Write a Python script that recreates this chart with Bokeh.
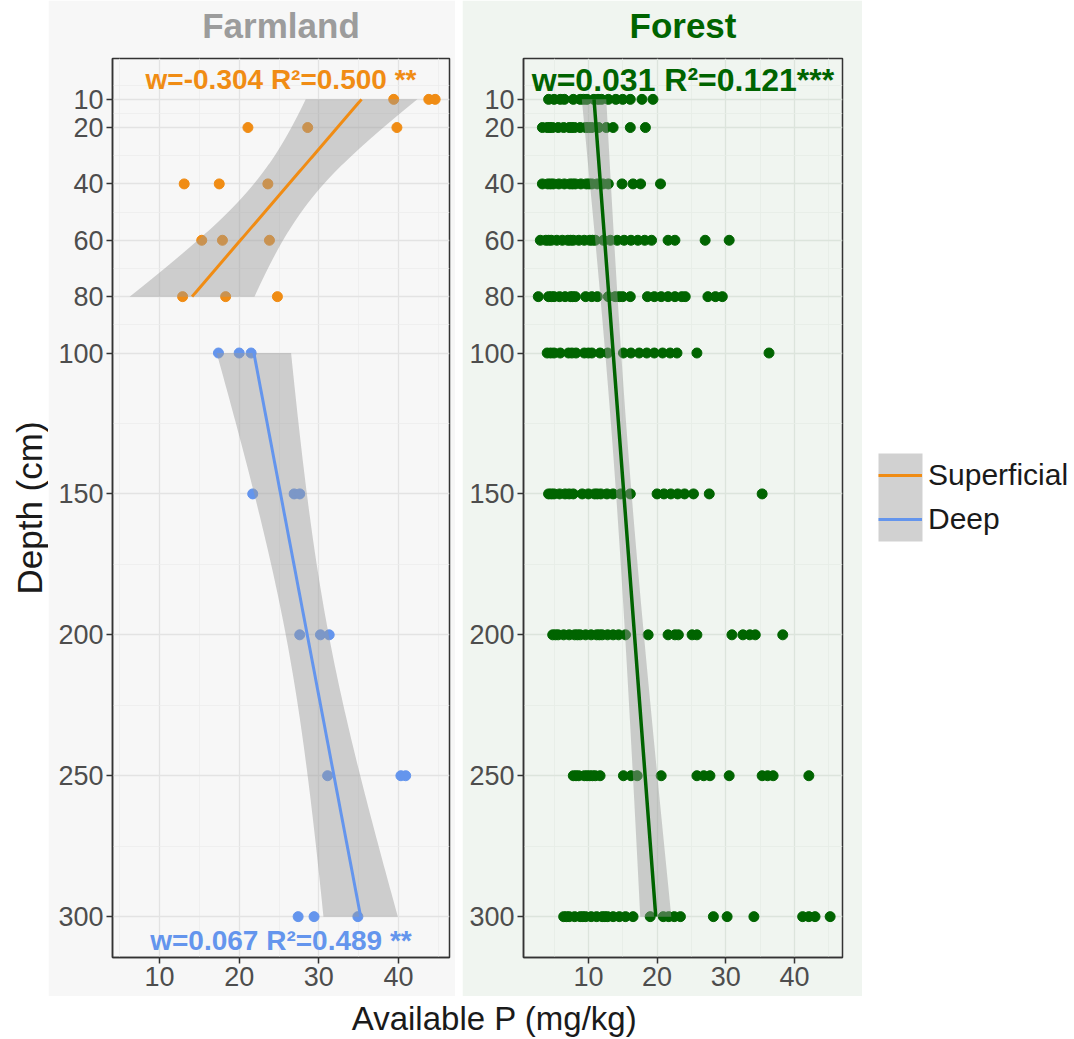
import numpy as np
from bokeh.plotting import figure
from bokeh.models import (Range1d, FixedTicker, ColumnDataSource, Label, Legend,
                          LegendItem, Spacer, Title)
from bokeh.layouts import row, column
from bokeh.embed import file_html
from bokeh.resources import INLINE

# ---------------------------------------------------------------- data
depth_ticks = [10, 20, 40, 60, 80, 100, 150, 200, 250, 300]
depth_minor = [5, 15, 30, 50, 70, 90, 125, 175, 225, 275]
p_ticks = [10, 20, 30, 40]
p_minor = [5, 15, 25, 35, 45]

# Farmland, superficial layer (10-80 cm)
farm_sup_depth = [10, 10, 10, 20, 20, 20, 40, 40, 40, 60, 60, 60, 80, 80, 80]
farm_sup_p = [39.4, 43.8, 44.6, 21.1, 28.6, 39.8, 13.1, 17.5, 23.6,
              15.3, 17.9, 23.8, 12.9, 18.3, 24.8]

# Farmland, deep layer (100-300 cm)
farm_deep_depth = [100, 100, 100, 150, 150, 150, 200, 200, 200,
                   250, 250, 250, 300, 300, 300]
farm_deep_p = [17.4, 20.0, 21.5, 21.7, 26.9, 27.6, 27.6, 30.2, 31.3,
               31.1, 40.3, 40.9, 27.4, 29.4, 34.9]

# Forest profiles, available P at each sampled depth
forest_10 = [4.2, 5.0, 5.9, 6.5, 7.8, 8.8, 9.3, 9.8, 10.8, 11.4, 11.9, 12.9,
             14.0, 15.0, 16.1, 17.8, 19.4]
forest_20 = [3.3, 4.0, 4.4, 4.8, 5.6, 6.4, 7.2, 7.6, 8.0, 8.8, 9.6, 10.0, 10.5,
             11.5, 12.6, 13.6, 16.1, 18.3]
forest_40 = [3.3, 4.1, 4.5, 4.9, 5.7, 6.5, 7.3, 7.7, 8.1, 8.9, 9.7, 10.1, 10.5,
             11.3, 12.1, 12.9, 14.9, 16.5, 17.6, 20.5]
forest_60 = [3.0, 3.8, 4.2, 4.6, 5.4, 6.2, 7.0, 7.4, 7.8, 8.6, 9.4, 10.2, 10.6,
             11.0, 12.2, 13.2, 14.2, 15.2, 16.2, 17.2, 18.2, 19.2, 21.6, 22.6,
             27.0, 30.5]
forest_80 = [2.7, 4.2, 4.6, 5.0, 5.8, 6.6, 7.4, 7.7, 8.1, 9.6, 10.5, 11.3, 12.9,
             13.9, 14.5, 15.0, 16.1, 18.6, 19.6, 20.6, 21.6, 22.6, 23.6, 24.1,
             27.4, 28.5, 29.5]
forest_100 = [4.0, 4.5, 5.0, 5.9, 7.1, 7.6, 8.2, 9.4, 10.0, 10.5, 11.7, 12.8,
              15.1, 16.2, 17.4, 18.5, 19.6, 20.8, 21.9, 22.9, 25.8, 36.3]
forest_150 = [4.2, 4.6, 5.0, 5.8, 6.6, 7.2, 7.8, 9.1, 10.0, 10.9, 11.3, 11.8,
              12.7, 13.6, 14.7, 16.1, 20.0, 21.0, 22.0, 23.0, 24.0, 25.3, 27.6,
              35.3]
forest_200 = [4.8, 5.2, 5.6, 6.4, 7.2, 8.0, 8.4, 8.8, 9.6, 10.4, 11.2, 11.6,
              12.0, 12.8, 13.6, 14.4, 15.4, 18.7, 21.6, 22.6, 23.1, 25.1, 25.8,
              30.9, 32.5, 33.5, 34.3, 38.3]
forest_250 = [7.8, 8.2, 8.6, 9.4, 9.8, 10.2, 10.6, 11.0, 11.7, 15.1, 16.2, 17.1,
              20.6, 25.8, 26.8, 27.7, 30.5, 35.3, 36.1, 36.9, 42.1]
forest_300 = [6.4, 6.8, 7.2, 8.0, 8.8, 9.2, 9.6, 10.4, 11.2, 12.0, 12.4, 12.8,
              13.6, 14.5, 15.4, 16.5, 19.0, 20.9, 21.7, 22.5, 23.4, 28.2, 30.2,
              34.1, 41.2, 42.1, 43.0, 45.2]
forest_levels = [10, 20, 40, 60, 80, 100, 150, 200, 250, 300]
forest_rows = [forest_10, forest_20, forest_40, forest_60, forest_80,
               forest_100, forest_150, forest_200, forest_250, forest_300]

# regression summaries (slope of P on depth, R squared, significance)
sup_w, sup_r2, sup_sig = -0.304, 0.500, " **"
deep_w, deep_r2, deep_sig = 0.067, 0.489, " **"
forest_w, forest_r2, forest_sig = 0.031, 0.121, "***"

legend_names = ["Superficial", "Deep"]

# ---------------------------------------------------------------- style
FONT = "Liberation Sans"
ORANGE = "#F08C14"
BLUE = "#6495ED"
GREEN = "#006400"
BAND = "#999999"
BAND_ALPHA = 0.45

PANEL_H = 996
XT_H = 43
FRAME_TOP, FRAME_BOTTOM = 58, 957       # frame edges shared by the row
DEPTH_RANGE = (314.5, -4.5)


def t975(df):
    """Upper 97.5% quantile of Student's t (Cornish-Fisher expansion)."""
    z = 1.959964
    return (z + (z**3 + z) / (4 * df)
            + (5 * z**5 + 16 * z**3 + 3 * z) / (96 * df**2)
            + (3 * z**7 + 19 * z**5 + 17 * z**3 - 15 * z) / (384 * df**3))


def smooth(depth, p, w):
    """Linear fit of P on depth with slope w and its 95% confidence band."""
    d = np.asarray(depth, float)
    y = np.asarray(p, float)
    n = len(d)
    a = y.mean() - w * d.mean()
    resid = y - (a + w * d)
    s = np.sqrt((resid ** 2).sum() / (n - 2))
    sxx = ((d - d.mean()) ** 2).sum()
    grid = np.linspace(d.min(), d.max(), 100)
    fit = a + w * grid
    se = s * np.sqrt(1.0 / n + (grid - d.mean()) ** 2 / sxx)
    t = t975(n - 2)
    return ColumnDataSource(dict(d=grid, fit=fit, lo=fit - t * se, hi=fit + t * se))


def panel(width, x_range, borders, bg, major_col, minor_col, title, title_col):
    left, right = borders
    p = figure(width=width, height=PANEL_H, x_range=x_range,
               y_range=Range1d(*DEPTH_RANGE), output_backend="svg",
               toolbar_location=None, title=None, min_border_left=left,
               min_border_right=right, min_border_top=FRAME_TOP,
               min_border_bottom=PANEL_H - FRAME_BOTTOM)
    p.background_fill_color = bg
    p.border_fill_color = bg
    p.outline_line_color = "#333333"
    p.outline_line_width = 1.5

    # thin blank strip between frame and title lifts the title a little
    p.add_layout(Title(text=" ", text_font_size="1px", standoff=11), "above")
    p.add_layout(Title(text=title, align="center", text_font=FONT,
                       text_font_size="35px", text_font_style="bold",
                       text_color=title_col, standoff=0), "above")

    p.xaxis.ticker = FixedTicker(ticks=p_ticks)
    p.yaxis.ticker = FixedTicker(ticks=depth_ticks)
    p.xgrid.ticker = FixedTicker(ticks=p_ticks, minor_ticks=p_minor)
    p.ygrid.ticker = FixedTicker(ticks=depth_ticks, minor_ticks=depth_minor)
    for g in (p.xgrid, p.ygrid):
        g.grid_line_color = major_col
        g.grid_line_width = 1.3
        g.minor_grid_line_color = minor_col
        g.minor_grid_line_width = 0.8

    for ax in (p.xaxis, p.yaxis):
        ax.axis_line_color = "#333333"
        ax.axis_line_width = 1.5
        ax.major_tick_line_color = "#333333"
        ax.major_tick_line_width = 1.5
        ax.major_tick_out = 6
        ax.major_tick_in = 0
        ax.minor_tick_line_color = None
        ax.major_label_text_font = FONT
        ax.major_label_text_font_size = "27px"
        ax.major_label_text_color = "#4D4D4D"
        ax.major_label_standoff = 3
    return p


def add_group(p, depth, values, w, color, line_width=3):
    src = ColumnDataSource(dict(p=values, d=depth))
    p.scatter("p", "d", source=src, size=10, color=color)
    band = smooth(depth, values, w)
    p.harea(x1="lo", x2="hi", y="d", source=band, fill_color=BAND,
            fill_alpha=BAND_ALPHA)
    p.line("fit", "d", source=band, line_color=color, line_width=line_width)


def stat_label(p, text, y, color, size):
    mid = (p.x_range.start + p.x_range.end) / 2
    p.add_layout(Label(x=mid, y=y, text=text, text_align="center",
                       text_baseline="middle", text_font=FONT,
                       text_font_size=size, text_font_style="bold",
                       text_color=color))


def blank(width, height, x_range=(0, 1), y_range=(0, 1)):
    f = figure(width=width, height=height, x_range=Range1d(*x_range),
               y_range=Range1d(*y_range), x_axis_type=None, y_axis_type=None,
               output_backend="svg", toolbar_location=None, min_border=0,
               outline_line_color=None, title=None)
    f.border_fill_color = "white"
    f.background_fill_color = "white"
    return f


# ---------------------------------------------------------------- farmland
farm = panel(407, Range1d(4.1, 46.4), (64, 6), "#F7F7F7",
             "#E3E3E3", "#ECECEC", "Farmland", "#9C9C9C")
add_group(farm, farm_sup_depth, farm_sup_p, sup_w, ORANGE)
add_group(farm, farm_deep_depth, farm_deep_p, deep_w, BLUE)
stat_label(farm, f"w={sup_w:.3f} R\u00b2={sup_r2:.3f}{sup_sig}", 3.0, ORANGE, "28px")
stat_label(farm, f"w={deep_w:.3f} R\u00b2={deep_r2:.3f}{deep_sig}", 308.5, BLUE, "28px")

# ---------------------------------------------------------------- forest
forest_depth = [d for d, vals in zip(forest_levels, forest_rows) for _ in vals]
forest_p = [v for vals in forest_rows for v in vals]

forest = panel(400, Range1d(0.55, 47.0), (61, 20), "#F0F5F0",
               "#DCE4DC", "#E6ECE6", "Forest", GREEN)
add_group(forest, forest_depth, forest_p, forest_w, GREEN, line_width=3.5)
stat_label(forest, f"w={forest_w:.3f} R\u00b2={forest_r2:.3f}{forest_sig}", 3.0, GREEN, "32px")

# ---------------------------------------------------------------- legend
# legend panel measured in pixels from its top-left corner
lg = blank(212, PANEL_H, x_range=(0, 212), y_range=(FRAME_BOTTOM, FRAME_TOP))
KEY_L, KEY_TOP, KEY_SIZE = 16, 453, 44
lg.quad(left=[KEY_L], right=[KEY_L + KEY_SIZE], top=[KEY_TOP],
        bottom=[KEY_TOP + 2 * KEY_SIZE], fill_color=BAND, fill_alpha=BAND_ALPHA,
        line_color=None)
items = []
for name, color in zip(legend_names, (ORANGE, BLUE)):
    ln = lg.line(x=[-3, -2], y=[-3, -2], line_color=color, line_width=3)
    items.append(LegendItem(label=name, renderers=[ln]))
legend = Legend(items=items,
                location=(KEY_L, FRAME_BOTTOM - KEY_TOP - 2 * KEY_SIZE),
                orientation="vertical", glyph_width=KEY_SIZE,
                glyph_height=KEY_SIZE, label_height=KEY_SIZE, spacing=0,
                padding=0, margin=0, label_standoff=6, label_text_font=FONT,
                label_text_font_size="30px", label_text_color="#1A1A1A",
                border_line_color=None, background_fill_alpha=0)
lg.add_layout(legend, "center")

# ---------------------------------------------------------------- axis titles
yt = blank(48, PANEL_H)
yt.add_layout(Label(x=0.6, y=0.5, text="Depth (cm)", angle=np.pi / 2,
                    text_align="center", text_baseline="middle", text_font=FONT,
                    text_font_size="35px", text_color="#1A1A1A"))

xt = blank(1074, XT_H)
xt.add_layout(Label(x=494 / 1074, y=0.5, text="Available P (mg/kg)",
                    text_align="center", text_baseline="middle", text_font=FONT,
                    text_font_size="33px", text_color="#1A1A1A"))

layout = column(row(yt, farm, Spacer(width=7, height=PANEL_H), forest, lg), xt)

open("out.html", "w").write(file_html(layout, INLINE))
